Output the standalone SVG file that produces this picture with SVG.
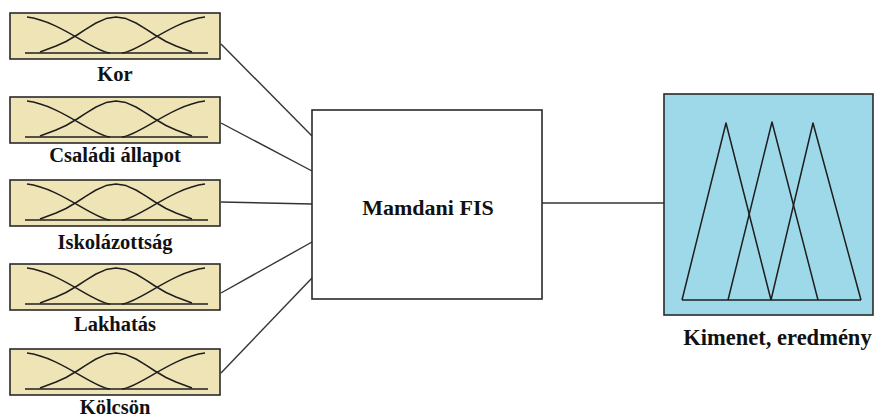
<svg xmlns="http://www.w3.org/2000/svg" xmlns:xlink="http://www.w3.org/1999/xlink" width="877" height="419" viewBox="0 0 877 419">
<style>
text{font-family:'Liberation Serif','DejaVu Serif',serif;font-weight:bold;fill:#111;}
.in{font-size:20.5px;text-anchor:middle;}
.conn{stroke:#333;stroke-width:1.4;fill:none;}
.mfbox{fill:#efe4b5;stroke:#2a2a2a;stroke-width:1.6;}
.mfl{fill:none;stroke:#1e1e1e;stroke-width:1.5;stroke-linejoin:round;}
</style>
<defs>
<g id="mf">
<rect class="mfbox" x="0" y="0" width="210" height="46"/>
<line class="mfl" x1="15" y1="40" x2="198" y2="40"/>
<path class="mfl" d="M17,4 C50,8 82,38 100,40"/>
<path class="mfl" d="M195,4 C162,8 130,38 112,40"/>
<polyline class="mfl" points="30,39 46,33 56,28.5 67,22 76,16.1 86,10 96,5.6 106,4 116,5.6 126,10 136,16.1 145,22 156,28.5 166,33 182,39"/>
</g>
</defs>
<rect width="877" height="419" fill="#fff"/>
<g id="connectors">
<line class="conn" x1="221" y1="44" x2="312" y2="136"/>
<line class="conn" x1="221" y1="123" x2="312" y2="171"/>
<line class="conn" x1="221" y1="202" x2="312" y2="204"/>
<line class="conn" x1="221" y1="293" x2="312" y2="242"/>
<line class="conn" x1="221" y1="373" x2="312" y2="278"/>
<line class="conn" x1="542" y1="203" x2="665" y2="203"/>
</g>
<g id="node-kor">
<use xlink:href="#mf" href="#mf" x="10" y="13"/>
<text class="in" x="115" y="81" font-family="Liberation Serif, serif">Kor</text>
</g>
<g id="node-csaladi">
<use xlink:href="#mf" href="#mf" x="10" y="97"/>
<text class="in" x="115" y="161.5" font-family="Liberation Serif, serif">Családi állapot</text>
</g>
<g id="node-iskolazottsag">
<use xlink:href="#mf" href="#mf" x="10" y="180"/>
<text class="in" x="115" y="249" font-family="Liberation Serif, serif">Iskolázottság</text>
</g>
<g id="node-lakhatas">
<use xlink:href="#mf" href="#mf" x="10" y="264"/>
<text class="in" x="115" y="331" font-family="Liberation Serif, serif">Lakhatás</text>
</g>
<g id="node-kolcson">
<use xlink:href="#mf" href="#mf" x="10" y="349"/>
<text class="in" x="115" y="414" font-family="Liberation Serif, serif">Kölcsön</text>
</g>
<g id="node-mamdani">
<rect x="312" y="110" width="230" height="189" fill="#fff" stroke="#2a2a2a" stroke-width="1.6"/>
<text x="428" y="215" font-size="22" text-anchor="middle" font-family="Liberation Serif, serif">Mamdani FIS</text>
</g>
<g id="node-output">
<rect x="664" y="94" width="209" height="221" fill="#9ed9ea" stroke="#2a2a2a" stroke-width="1.6"/>
<line class="mfl" x1="682" y1="300" x2="861" y2="300"/>
<polyline class="mfl" points="682,300 726,123 771,300"/>
<polyline class="mfl" points="728,300 772,122 818,300"/>
<polyline class="mfl" points="771,300 813,123 861,300"/>
<text x="777.5" y="345" font-size="22.5" text-anchor="middle" font-family="Liberation Serif, serif">Kimenet, eredmény</text>
</g>
</svg>
